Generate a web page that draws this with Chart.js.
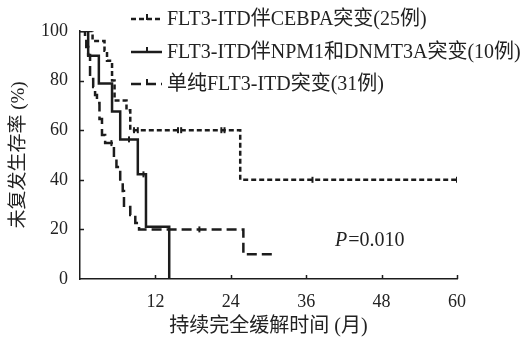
<!DOCTYPE html>
<html>
<head>
<meta charset="utf-8">
<script src="https://cdn.jsdelivr.net/npm/chart.js@4"></script>
<style>
  html, body { margin: 0; padding: 0; background: #fff; }
  #wrap { width: 531px; height: 346px; }
</style>
</head>
<body>
<div id="wrap"><canvas id="km"></canvas></div>
<script>
/* data */
var legendNames = ['FLT3-ITD伴CEBPA突变(25例)', 'FLT3-ITD伴NPM1和DNMT3A突变(10例)', '单纯FLT3-ITD突变(31例)'];

var cebpaTime = [0, 2.0, 3.9, 4.3, 5.1, 5.5, 7.4, 8.0, 25.5, 60];
var cebpaSurv = [100, 96, 92, 88, 80, 72, 68, 60, 40, 40];
var cebpaCensTime = [8.6, 9.2, 15.6, 16.1, 22.5, 23.0, 37, 60];
var cebpaCensSurv = [60, 60, 60, 60, 60, 60, 40, 40];

var npmTime = [0, 1.3, 3.0, 5.1, 6.4, 9.2, 10.5, 14.2];
var npmSurv = [100, 90, 78.8, 67.5, 56.3, 42.2, 21.1, 0];
var npmCensTime = [7.8, 10.1];
var npmCensSurv = [56.3, 42.2];

var singleTime = [0, 0.8, 1.0, 1.3, 1.6, 2.1, 2.4, 2.7, 3.1, 3.5, 4.0, 5.4, 5.8, 6.4, 6.8, 7.0, 8.0, 8.8, 9.4, 26.0, 31.2];
var singleSurv = [100, 96.8, 93.5, 90.3, 80.6, 77.4, 74.2, 71, 64.5, 58.1, 54.8, 48.4, 45.2, 38.7, 35.5, 29, 25.8, 22.6, 20, 10, 10];
var singleCensTime = [5.0, 19];
var singleCensSurv = [54.8, 20];

var xTicks = [12, 24, 36, 48, 60];
var yTicks = [0, 20, 40, 60, 80, 100];

var dashes = [[5, 3], [], [10, 5]];
var ink = '#1c1c1c';
var fontFam = '"Liberation Serif", "Noto Sans CJK SC", serif';

function pts(t, s) {
  var out = [];
  for (var i = 0; i < t.length; i++) out.push({x: t[i], y: s[i]});
  return out;
}

function curve(t, s, d) {
  return {
    data: pts(t, s), stepped: true, borderColor: ink, borderWidth: 2.5,
    borderDash: d, pointRadius: 0, fill: false, borderCapStyle: 'butt'
  };
}
// censor marks sit just above the curve
function cens(t, s) {
  return {
    data: pts(t, s), showLine: false, pointStyle: 'line', rotation: 90,
    pointRadius: 3, borderColor: ink, pointBorderWidth: 2, backgroundColor: ink
  };
}

/* legend, inward ticks, P value */
var extras = {
  id: 'extras',
  afterDraw: function(chart) {
    var ctx = chart.ctx;
    var xs = chart.scales.x, ys = chart.scales.y;
    ctx.save();
    ctx.strokeStyle = ink;
    ctx.lineWidth = 1.5;
    ctx.setLineDash([]);
    // inward ticks
    for (var i = 0; i < xTicks.length; i++) {
      var px = Math.round(xs.getPixelForValue(xTicks[i])) + 0.5;
      ctx.beginPath(); ctx.moveTo(px, ys.bottom); ctx.lineTo(px, ys.bottom - 4); ctx.stroke();
    }
    for (var j = 1; j < yTicks.length - 1; j++) {
      var py = Math.round(ys.getPixelForValue(yTicks[j])) + 0.5;
      ctx.beginPath(); ctx.moveTo(xs.left, py); ctx.lineTo(xs.left + 4, py); ctx.stroke();
    }
    // legend
    var rows = [19, 52, 84];
    ctx.font = '20px ' + fontFam;
    ctx.fillStyle = '#222';
    ctx.textBaseline = 'middle';
    for (var k = 0; k < legendNames.length; k++) {
      var y = rows[k];
      ctx.lineWidth = 2.5;
      ctx.setLineDash(dashes[k]);
      ctx.beginPath(); ctx.moveTo(131, y); ctx.lineTo(162, y); ctx.stroke();
      ctx.setLineDash([]);
      ctx.lineWidth = 2;
      ctx.beginPath(); ctx.moveTo(147, y - 5); ctx.lineTo(147, y + 1); ctx.stroke();
      ctx.fillText(legendNames[k], 167, y + 1);
    }
    // P value
    ctx.font = 'italic 20px ' + fontFam;
    ctx.fillText('P', 335, 241);
    var w = ctx.measureText('P').width;
    ctx.font = '20px ' + fontFam;
    ctx.fillText('=0.010', 335 + w + 1, 241);
    ctx.restore();
  }
};

var chart = new Chart(document.getElementById('km'), {
  type: 'line',
  data: {
    datasets: [
      curve(cebpaTime, cebpaSurv, dashes[0]),
      curve(npmTime, npmSurv, dashes[1]),
      curve(singleTime, singleSurv, dashes[2]),
      cens(cebpaCensTime, cebpaCensSurv),
      cens(npmCensTime, npmCensSurv),
      cens(singleCensTime, singleCensSurv)
    ]
  },
  options: {
    responsive: true,
    maintainAspectRatio: false,
    animation: false,
    events: [],
    layout: { padding: { top: 31, right: 74, left: 0, bottom: 0 } },
    plugins: { legend: { display: false }, tooltip: { enabled: false } },
    scales: {
      x: {
        type: 'linear', min: 0, max: 60,
        grid: { display: false, drawTicks: false },
        border: { display: true, color: ink, width: 1.5 },
        ticks: {
          stepSize: 12, padding: 12, color: '#222', maxRotation: 0,
          font: { family: fontFam, size: 18 },
          callback: function(v) { return v === 0 ? '' : v; }
        },
        title: {
          display: true, text: '持续完全缓解时间 (月)', color: '#222',
          font: { family: fontFam, size: 20 }, padding: { top: 7, bottom: 7 }
        },
        afterFit: function(s) { s.height = 67; }
      },
      y: {
        min: 0, max: 100,
        grid: { display: false, drawTicks: false },
        border: { display: true, color: ink, width: 1.5 },
        ticks: {
          stepSize: 20, padding: 12, color: '#222',
          font: { family: fontFam, size: 18 }
        },
        title: {
          display: true, text: '未复发生存率 (%)', color: '#222',
          font: { family: fontFam, size: 19 }, padding: { top: 8, bottom: 8 }
        },
        afterFit: function(s) { s.width = 80; }
      }
    }
  },
  plugins: [extras]
});
</script>
</body>
</html>
